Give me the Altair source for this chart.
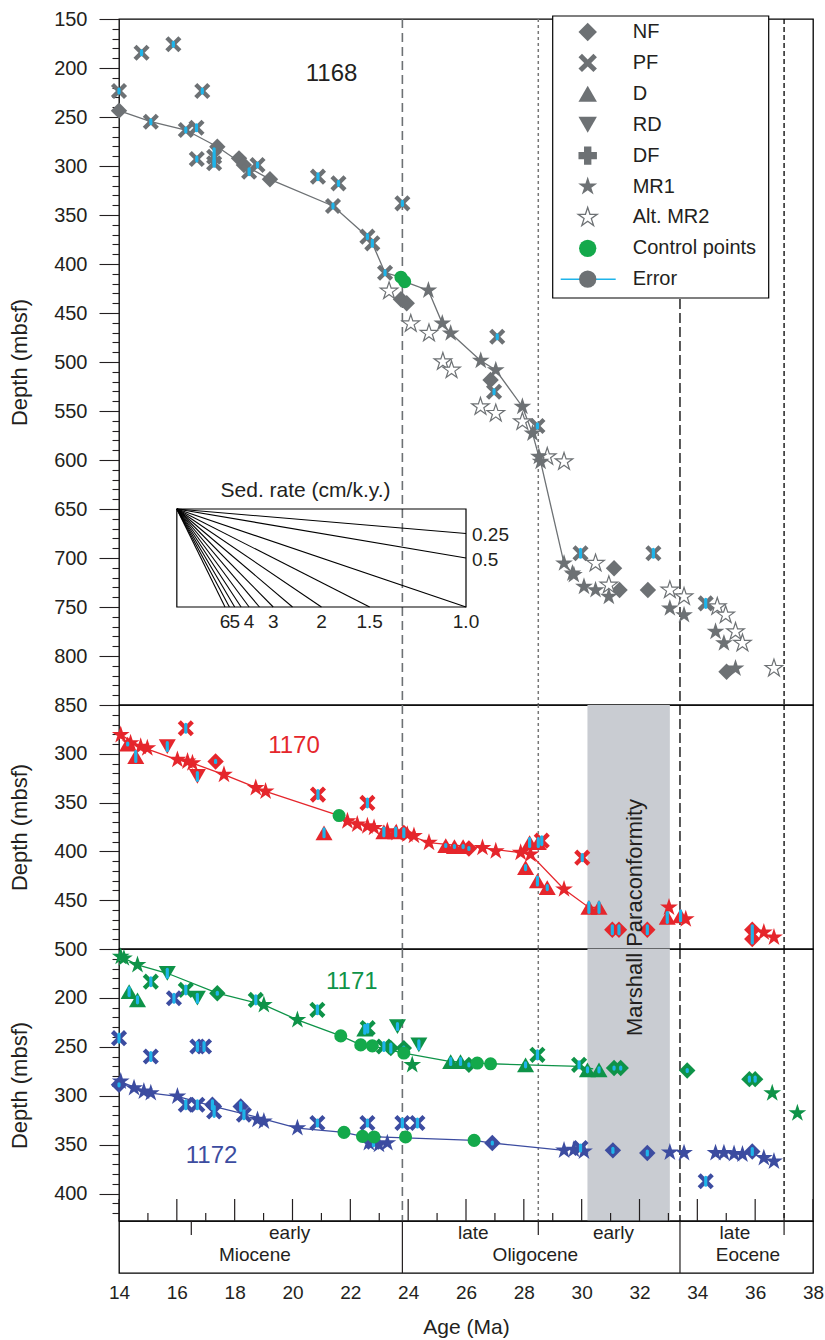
import altair as alt
import pandas as pd

# ------------------------------------------------------------------ data
AGE_DOMAIN = [14, 38]
DEPTH_1168 = [150, 850]
DEPTH_1170 = [250, 500]
DEPTH_1171_72 = [150, 428]

TICKS_1168 = list(range(150, 851, 10))
TICKS_1170 = list(range(260, 501, 10))
TICKS_1171_72 = list(range(160, 421, 10))

X_LABEL_VALUES = [14, 16, 18, 20, 22, 24, 26, 28, 30, 32, 34, 36, 38]
X_MAJOR_TICKS = [14, 16, 18, 20, 22, 24, 26, 28, 30, 32, 34, 36, 38]
X_MINOR_TICKS = [15, 17, 19, 21, 23, 25, 27, 29, 31, 33, 35, 37]

BOUNDARY_AGES = [23.8, 28.5, 33.4, 37.0]      # vertical lines across panels
EPOCH_BOUNDS = [23.8, 33.4]                   # full lines in time-scale box
SUBEPOCH_BOUNDS = [16.5, 28.5, 37.0]          # short ticks in time-scale box
GAP_AGES = [30.2, 33.05]                      # Marshall Paraconformity

EPOCH_NAMES = ["Miocene", "Oligocene", "Eocene"]
EPOCH_CENTERS = [18.7, 28.4, 35.75]
SUB_NAMES = ["early", "late", "early", "late"]
SUB_CENTERS = [19.9, 26.25, 31.1, 35.3]

# (age Ma, depth mbsf, depth error half-range m)
S1168_NF = [(14.0, 243.5), (17.4, 280.3), (18.15, 292.2), (18.32, 299.0), (19.22, 313.6),
            (23.75, 436.0), (23.95, 440.0), (26.85, 518.4), (31.12, 710.5), (31.31, 732.7),
            (32.29, 732.7), (35.01, 816.0)]
S1168_PF = [(14.78, 184.4, 2), (15.88, 175.8, 2), (14.0, 223.5, 2), (16.88, 223.5, 2),
            (15.10, 254.8, 2), (16.31, 263.3, 2), (16.68, 261.0, 3), (16.69, 292.9, 2),
            (17.29, 290.5, 8), (17.29, 297.2, 3), (18.50, 305.8, 3), (18.79, 299.0, 2),
            (20.88, 310.9, 3), (21.59, 317.7, 2), (21.40, 340.8, 2), (22.59, 372.1, 2),
            (22.76, 378.9, 3), (23.20, 408.9, 2), (23.80, 338.1, 2), (27.08, 474.2, 2),
            (26.97, 530.3, 2), (28.47, 565.3, 2), (29.96, 695.2, 4), (32.48, 695.2, 4),
            (34.29, 746.3, 4)]
S1168_MR1 = [(24.7, 427.0), (25.18, 460.5), (25.47, 470.7), (26.51, 498.7), (27.03, 508.2),
             (27.95, 545.6), (28.30, 572.8), (28.52, 596.6), (28.58, 601.7), (29.39, 705.4),
             (29.68, 715.7), (29.73, 717.3), (30.08, 729.3), (30.48, 732.7), (30.94, 739.5),
             (33.05, 751.3), (33.54, 758.2), (34.63, 775.2), (34.92, 787.0), (35.32, 812.6)]
S1168_MR2 = [(23.34, 427.6), (24.09, 461.0), (24.72, 470.7), (25.2, 499.7), (25.5, 508.2),
             (26.5, 545.6), (27.03, 552.4), (27.95, 560.9), (28.81, 596.6), (29.39, 601.7),
             (30.48, 705.4), (30.94, 727.6), (33.05, 732.7), (33.54, 739.5), (34.69, 749.7),
             (34.98, 758.2), (35.32, 775.2), (35.56, 787.0), (36.65, 812.6)]
S1168_CP = [(23.75, 413.5), (23.88, 418.0)]
L1168 = [(14.0, 243.5), (15.1, 254.8), (16.31, 263.3), (17.4, 280.3), (18.32, 299.0),
         (19.22, 313.6), (21.4, 340.8), (22.59, 372.1), (22.76, 378.9), (23.2, 408.9),
         (23.75, 413.5), (23.88, 418.0), (24.7, 427.0), (25.18, 460.5), (25.47, 470.7),
         (26.51, 498.7), (27.03, 508.2), (27.95, 545.6), (28.3, 572.8), (28.52, 596.6),
         (28.58, 601.7), (29.39, 705.4), (29.73, 717.3)]

S1170_MR1 = [(14.06, 280.6), (14.4, 289.1), (14.75, 292.6), (14.98, 294.2), (16.02, 306.1),
             (16.37, 307.8), (16.54, 309.5), (17.63, 321.4), (18.73, 335.0), (19.07, 338.5),
             (21.9, 369.0), (22.24, 372.4), (22.59, 374.2), (22.82, 375.8), (23.28, 379.3),
             (23.6, 381.0), (23.97, 382.7), (24.2, 384.0), (24.72, 391.1), (26.57, 396.3),
             (27.03, 399.7), (27.89, 401.3), (28.23, 403.0), (29.39, 438.8), (33.02, 457.4),
             (33.6, 469.4), (36.3, 483.0), (36.65, 488.1)]
S1170_PF = [(16.31, 273.8, 4), (20.88, 341.8, 4), (22.59, 350.3, 4), (28.62, 389.0, 4),
            (30.02, 406.4, 3)]
S1170_D = [(14.3, 290.0, 1), (14.58, 302.8, 5), (21.09, 381.0, 4), (23.16, 380.0, 4),
           (23.57, 380.0, 4), (25.3, 394.0, 1), (25.6, 395.0, 1), (25.9, 395.0, 1),
           (28.2, 391.0, 4), (28.5, 391.0, 4), (28.06, 416.6, 2), (28.47, 430.3, 4),
           (28.81, 437.1, 2), (30.25, 457.4, 5), (30.6, 457.4, 5), (32.96, 467.7, 5),
           (33.42, 466.0, 5)]
S1170_RD = [(15.67, 292.6, 4), (16.71, 323.2, 4)]
S1170_NF = [(17.34, 307.8, 1), (23.85, 381.0, 4), (26.1, 397.0, 1), (31.06, 480.3, 4),
            (31.29, 480.3, 4), (32.27, 480.3, 4), (35.9, 480.3, 4), (35.9, 489.8, 4)]
S1170_CP = [(21.61, 363.3)]
L1170 = [(14.06, 280.6), (14.75, 292.6), (16.02, 306.1), (16.54, 309.5), (17.63, 321.4),
         (19.07, 338.5), (21.61, 363.3), (22.59, 374.2), (23.97, 382.7), (24.72, 391.1),
         (26.57, 396.3), (27.89, 401.3), (28.23, 403.0), (29.39, 438.8), (30.25, 457.4),
         (30.6, 457.4)]

S1171_MR1 = [(14.06, 157.8), (14.17, 159.5), (14.64, 166.3), (19.01, 207.1), (20.17, 222.4),
             (24.14, 268.4), (36.59, 297.3), (37.46, 317.7)]
S1171_PF = [(15.1, 183.4, 4), (16.31, 191.8, 4), (18.73, 202.0, 4), (20.86, 212.2, 4),
            (22.6, 230.9, 4), (23.16, 249.7, 4), (28.47, 258.2, 4), (29.91, 268.4, 3)]
S1171_D = [(14.35, 193.6, 4), (14.64, 202.0, 3), (22.5, 232.0, 4), (25.47, 265.0, 3),
           (25.81, 265.0, 3), (28.06, 268.4, 2), (30.2, 273.5, 2), (30.6, 273.5, 2)]
S1171_RD = [(15.67, 174.8, 4), (16.71, 200.3, 4), (23.63, 229.3, 3), (24.37, 248.0, 4)]
S1171_NF = [(17.4, 195.2, 1), (23.4, 251.3, 4), (23.85, 251.3, 1), (26.1, 268.4, 1),
            (31.12, 271.7, 1), (31.35, 271.7, 1), (33.65, 274.2, 1), (35.8, 283.0, 2),
            (36.0, 283.0, 2)]
S1171_CP = [(21.67, 238.8), (22.36, 248.0), (22.76, 249.0), (23.85, 256.4), (26.39, 266.6),
            (26.85, 267.3)]
L1171 = [(14.06, 157.8), (14.64, 166.3), (15.67, 174.8), (17.4, 195.2), (19.01, 207.1),
         (20.17, 222.4), (21.67, 238.8), (22.36, 248.0), (22.76, 249.0), (23.85, 256.4),
         (25.47, 265.0), (26.39, 266.6), (26.85, 267.3), (28.06, 268.4), (29.91, 270.0),
         (30.4, 272.5)]

S1172_MR1 = [(14.06, 285.4), (14.52, 292.1), (14.86, 295.6), (15.1, 297.2), (16.02, 300.7),
             (18.79, 324.5), (19.01, 326.2), (20.17, 333.0), (22.64, 348.3), (22.99, 350.0),
             (23.28, 348.3), (29.39, 355.8), (29.73, 355.1), (30.08, 356.8), (33.05, 357.8),
             (33.54, 358.5), (34.63, 358.5), (34.92, 358.5), (35.27, 359.5), (35.56, 360.0),
             (36.3, 363.6), (36.65, 367.0)]
S1172_PF = [(14.0, 241.1, 4), (15.1, 259.9, 4), (15.9, 200.3, 4), (16.71, 249.7, 4),
            (16.94, 249.7, 4), (16.31, 309.2, 4), (16.71, 309.2, 4), (17.29, 316.0, 5),
            (18.32, 319.4, 4), (20.86, 327.9, 3), (22.59, 327.9, 3), (22.8, 347.0, 4),
            (23.8, 327.9, 4), (24.32, 327.9, 4), (29.96, 353.4, 3), (34.29, 387.4, 4)]
S1172_NF = [(14.0, 288.8, 1), (17.23, 309.2, 4), (18.21, 310.9, 4), (26.91, 348.3, 1),
            (31.08, 355.8, 2), (32.27, 358.5, 2), (35.9, 357.0, 3)]
S1172_CP = [(21.78, 337.4), (22.42, 341.5), (22.82, 342.1), (23.91, 342.1), (26.28, 345.6)]
L1172 = [(14.0, 285.4), (15.1, 297.2), (16.02, 300.7), (17.3, 311.0), (18.79, 322.0),
         (20.17, 333.0), (21.78, 337.4), (22.42, 341.5), (23.91, 343.0), (26.28, 345.6),
         (26.91, 348.3), (29.39, 355.8)]

SITE_NAMES = ["1168", "1170", "1171", "1172"]
SITE_LABEL_AGE = [21.35, 20.05, 22.05, 17.2]
SITE_LABEL_DEPTH = [206, 292, 184, 362]

SED_RATES = [0.25, 0.5, 1.0, 1.5, 2, 2.5, 3, 3.5, 4, 4.5, 5, 5.5, 6]
SED_BOX_AGE = [16, 26]
SED_BOX_DEPTH = [650, 750]
SED_BOTTOM_LABELS = ["6", "5", "4", "3", "2", "1.5", "1.0"]
SED_BOTTOM_RATES = [6, 5, 4, 3, 2, 1.5, 1.0]
SED_RIGHT_LABELS = ["0.25", "0.5"]
SED_RIGHT_RATES = [0.25, 0.5]

LEGEND_LABELS = ["NF", "PF", "D", "RD", "DF", "MR1", "Alt. MR2", "Control points", "Error"]

# ------------------------------------------------------------------ style
FONT = "Liberation Sans"
W = 694
H_TOP, H_MID, H_BOT, H_TS = 686, 244, 272, 52
INK = "#231f20"
GRAY = "#6d7174"
RED = "#e5262c"
GREEN = "#0e9348"
CP_GREEN = "#14a94b"
BLUE = "#3c4ca0"
CYAN = "#1eb4ea"
BAND = "#c9ccd2"

X_PATH = ("M-1,-0.62L-0.62,-1L0,-0.38L0.62,-1L1,-0.62L0.38,0L1,0.62L0.62,1"
          "L0,0.38L-0.62,1L-1,0.62L-0.38,0Z")
STAR_PATH = ("M0,-1L0.2245,-0.309L0.951,-0.309L0.363,0.118L0.588,0.809L0,0.382"
             "L-0.588,0.809L-0.363,0.118L-0.951,-0.309L-0.2245,-0.309Z")
SHAPE = {"NF": "diamond", "PF": X_PATH, "D": "triangle-up", "RD": "triangle-down",
         "DF": "cross", "MR1": STAR_PATH, "MR2": STAR_PATH, "CP": "circle"}
SIZE = {"NF": 270, "PF": 260, "D": 290, "RD": 290, "DF": 250, "MR1": 350, "MR2": 340, "CP": 170}

BOUNDARY_STYLE = [(GRAY, [9, 5], 1.6), ("#777777", [3, 3], 1.5), ("black", [10, 4], 1.3),
                  ("black", [5, 3], 1.3)]

XSC = alt.Scale(domain=AGE_DOMAIN, nice=False, zero=False)
ONE = pd.DataFrame({"k": [0]})


def xenc(field="age"):
    return alt.X(f"{field}:Q", scale=XSC, axis=None)


def y_axis(values):
    return alt.Axis(
        values=values, title="Depth (mbsf)", titleFontSize=22, titleFontWeight="normal",
        titleColor=INK, titlePadding=22, labelFontSize=20, labelColor=INK, labelPadding=12,
        labelExpr="datum.value % 50 === 0 ? datum.label : ''", labelOverlap=False,
        tickColor=INK, tickWidth=1.1,
        tickSize={"condition": {"test": "datum.value % 50 === 0", "value": 20}, "value": 7},
        domain=False, grid=False)


def to_df(pts):
    rows = []
    for i, p in enumerate(pts):
        e = p[2] if len(p) > 2 else 0
        rows.append({"i": i, "age": p[0], "depth": p[1], "lo": p[1] - e, "hi": p[1] + e})
    return pd.DataFrame(rows)


def panel(height, ydomain, yvalues, groups, lines, cps, extra_mid=(), extra_top=(), band=True):
    ysc = alt.Scale(domain=ydomain, reverse=True, nice=False, zero=False)
    yax = y_axis(yvalues)

    def Y(field="depth"):
        return alt.Y(f"{field}:Q", scale=ysc, axis=yax)

    layers = []
    if band:
        layers.append(alt.Chart(pd.DataFrame({"a0": [GAP_AGES[0]], "a1": [GAP_AGES[1]]}))
                      .mark_rect(color=BAND)
                      .encode(x=xenc("a0"), x2="a1:Q", y=alt.value(0), y2=alt.value(height)))
    for age, (col, dash, wd) in zip(BOUNDARY_AGES, BOUNDARY_STYLE):
        layers.append(alt.Chart(pd.DataFrame({"age": [age]}))
                      .mark_rule(color=col, strokeDash=dash, strokeWidth=wd)
                      .encode(x=xenc(), y=alt.value(0), y2=alt.value(height)))
    for f in extra_mid:
        layers.append(f(Y))
    for pts, col in lines:
        layers.append(alt.Chart(to_df(pts)).mark_line(color=col, strokeWidth=1.3)
                      .encode(x=xenc(), y=Y(), order="i:Q"))
    err_frames = []
    for typ, pts, col, cyan in groups:
        if not pts:
            continue
        d = to_df(pts)
        if typ == "MR2":
            mk = alt.Chart(d).mark_point(shape=SHAPE[typ], size=SIZE[typ], fill="white",
                                         stroke=col, strokeWidth=1.2, opacity=1)
        else:
            mk = alt.Chart(d).mark_point(shape=SHAPE[typ], size=SIZE[typ], filled=True,
                                         color=col, opacity=1)
        layers.append(mk.encode(x=xenc(), y=Y()))
        if cyan:
            err_frames.append(d)
    if err_frames:
        e = pd.concat(err_frames, ignore_index=True)
        layers.append(alt.Chart(e).mark_rule(color=CYAN, strokeWidth=3.2, strokeCap="round")
                      .encode(x=xenc(), y=Y("lo"), y2="hi:Q"))
    for pts in cps:
        layers.append(alt.Chart(to_df(pts)).mark_point(shape="circle", size=SIZE["CP"],
                                                       filled=True, color=CP_GREEN, opacity=1)
                      .encode(x=xenc(), y=Y()))
    for f in extra_top:
        layers.append(f(Y))
    return alt.layer(*layers).properties(width=W, height=height)


def site_label(idx, color):
    def f(Y):
        d = pd.DataFrame({"age": [SITE_LABEL_AGE[idx]], "depth": [SITE_LABEL_DEPTH[idx]],
                          "t": [SITE_NAMES[idx]]})
        return alt.Chart(d).mark_text(fontSize=24, color=color, align="center",
                                      baseline="middle").encode(x=xenc(), y=Y(), text="t:N")
    return f


# ---- sed-rate nomogram (top panel)
def sed_layers(Y):
    a0, a1 = SED_BOX_AGE
    d0, d1 = SED_BOX_DEPTH
    span_a, span_d = a1 - a0, d1 - d0
    rows = []
    for r in SED_RATES:
        m_per_my = 10.0 * r
        if m_per_my * span_a <= span_d:
            rows.append({"a0": a0, "d0": d0, "a1": a1, "d1": d0 + m_per_my * span_a})
        else:
            rows.append({"a0": a0, "d0": d0, "a1": a0 + span_d / m_per_my, "d1": d1})
    fan = (alt.Chart(pd.DataFrame(rows)).mark_rule(color="black", strokeWidth=1.1)
           .encode(x=xenc("a0"), y=Y("d0"), x2="a1:Q", y2="d1:Q"))
    box = (alt.Chart(pd.DataFrame({"a0": [a0], "a1": [a1], "d0": [d0], "d1": [d1]}))
           .mark_rect(fillOpacity=0, stroke="black", strokeWidth=1.2)
           .encode(x=xenc("a0"), x2="a1:Q", y=Y("d0"), y2="d1:Q"))
    title = (alt.Chart(pd.DataFrame({"age": [20.45], "depth": [631.5], "t": ["Sed. rate (cm/k.y.)"]}))
             .mark_text(fontSize=21, color=INK, align="center", baseline="middle")
             .encode(x=xenc(), y=Y(), text="t:N"))
    bl = pd.DataFrame({"age": [a0 + span_d / (10.0 * r) for r in SED_BOTTOM_RATES],
                       "depth": [765] * len(SED_BOTTOM_RATES), "t": SED_BOTTOM_LABELS,
                       "dx": [-3, 0, 0, 0, 0, 3, 6]})
    bot = (alt.Chart(bl).mark_text(fontSize=19, color=INK, align="center", baseline="middle")
           .encode(x=xenc(), y=Y(), text="t:N", xOffset="dx:Q"))
    rl = pd.DataFrame({"age": [a1] * 2,
                       "depth": [d0 + 10.0 * r * span_a + 2 for r in SED_RIGHT_RATES],
                       "t": SED_RIGHT_LABELS})
    right = (alt.Chart(rl).mark_text(fontSize=19, color=INK, align="left", baseline="middle", dx=6)
             .encode(x=xenc(), y=Y(), text="t:N"))
    return alt.layer(box, fan, title, bot, right)


# ---- legend (top panel)
LEG_X0, LEG_X1, LEG_Y0, LEG_Y1 = 433.7, 649.7, -3, 279
LEG_SYM_X, LEG_TXT_X, LEG_ROW0, LEG_DY = 468.7, 513.7, 13, 30.9


def legend_layers(Y):
    ls = [alt.Chart(ONE).mark_rect(fill="white", stroke="black", strokeWidth=1.2)
          .encode(x=alt.value(LEG_X0), x2=alt.value(LEG_X1), y=alt.value(LEG_Y0), y2=alt.value(LEG_Y1))]
    keys = ["NF", "PF", "D", "RD", "DF", "MR1", "MR2", "CP", "ERR"]
    for i, (k, lab) in enumerate(zip(keys, LEGEND_LABELS)):
        yy = LEG_ROW0 + i * LEG_DY
        if k == "ERR":
            ls.append(alt.Chart(ONE).mark_rule(color=CYAN, strokeWidth=1.6)
                      .encode(x=alt.value(LEG_SYM_X - 27), x2=alt.value(LEG_SYM_X + 28),
                              y=alt.value(yy)))
            ls.append(alt.Chart(ONE).mark_point(shape="circle", size=300, filled=True,
                                                color=GRAY, opacity=1)
                      .encode(x=alt.value(LEG_SYM_X), y=alt.value(yy)))
        elif k == "MR2":
            ls.append(alt.Chart(ONE).mark_point(shape=SHAPE[k], size=400, fill="white",
                                                stroke=GRAY, strokeWidth=1.3, opacity=1)
                      .encode(x=alt.value(LEG_SYM_X), y=alt.value(yy)))
        else:
            col = CP_GREEN if k == "CP" else GRAY
            sz = {"CP": 300, "MR1": 400, "D": 340, "RD": 340}.get(k, 340)
            ls.append(alt.Chart(ONE).mark_point(shape=SHAPE[k], size=sz, filled=True,
                                                color=col, opacity=1)
                      .encode(x=alt.value(LEG_SYM_X), y=alt.value(yy)))
        ls.append(alt.Chart(ONE).mark_text(text=lab, fontSize=20, color=INK, align="left",
                                           baseline="middle")
                  .encode(x=alt.value(LEG_TXT_X), y=alt.value(yy)))
    return alt.layer(*ls)


def marshall_text(Y):
    d = pd.DataFrame({"age": [31.84], "depth": [117.8], "t": ["Marshall Paraconformity"]})
    return (alt.Chart(d).mark_text(fontSize=22, color=INK, angle=270, align="center",
                                   baseline="middle")
            .encode(x=xenc(), y=Y(), text="t:N"))


top = panel(
    H_TOP, DEPTH_1168, TICKS_1168,
    groups=[("NF", S1168_NF, GRAY, False), ("PF", S1168_PF, GRAY, True),
            ("MR2", S1168_MR2, GRAY, False), ("MR1", S1168_MR1, GRAY, False)],
    lines=[(L1168, GRAY)], cps=[S1168_CP],
    extra_mid=[sed_layers], extra_top=[site_label(0, INK), legend_layers], band=False)

mid = panel(
    H_MID, DEPTH_1170, TICKS_1170,
    groups=[("MR1", S1170_MR1, RED, False), ("PF", S1170_PF, RED, True),
            ("D", S1170_D, RED, True), ("RD", S1170_RD, RED, True), ("NF", S1170_NF, RED, True)],
    lines=[(L1170, RED)], cps=[S1170_CP],
    extra_top=[site_label(1, RED)])

bot = panel(
    H_BOT, DEPTH_1171_72, TICKS_1171_72,
    groups=[("MR1", S1171_MR1, GREEN, False), ("PF", S1171_PF, GREEN, True),
            ("D", S1171_D, GREEN, True), ("RD", S1171_RD, GREEN, True),
            ("NF", S1171_NF, GREEN, True),
            ("MR1", S1172_MR1, BLUE, False), ("PF", S1172_PF, BLUE, True),
            ("NF", S1172_NF, BLUE, True)],
    lines=[(L1171, GREEN), (L1172, BLUE)], cps=[S1171_CP, S1172_CP],
    extra_top=[site_label(2, GREEN), site_label(3, BLUE), marshall_text])

# ---- time-scale strip with age axis
ts_x = alt.X("age:Q", scale=XSC,
             axis=alt.Axis(values=X_LABEL_VALUES, ticks=False, tickSize=0, domain=False,
                           grid=False, labelFlush=False, labelFontSize=19, labelColor=INK,
                           labelPadding=10, title="Age (Ma)", titleFontSize=21,
                           titleFontWeight="normal", titleColor=INK, titlePadding=14))
ts_layers = [
    alt.Chart(pd.DataFrame({"age": EPOCH_BOUNDS})).mark_rule(color=INK, strokeWidth=1.2)
    .encode(x=ts_x, y=alt.value(0), y2=alt.value(H_TS)),
    alt.Chart(pd.DataFrame({"age": SUBEPOCH_BOUNDS})).mark_rule(color=INK, strokeWidth=1.2)
    .encode(x=ts_x, y=alt.value(0), y2=alt.value(14)),
    alt.Chart(pd.DataFrame({"age": X_MAJOR_TICKS})).mark_rule(color=INK, strokeWidth=1.2)
    .encode(x=ts_x, y=alt.value(-22), y2=alt.value(0)),
    alt.Chart(pd.DataFrame({"age": X_MINOR_TICKS})).mark_rule(color=INK, strokeWidth=1.2)
    .encode(x=ts_x, y=alt.value(-8), y2=alt.value(0)),
    alt.Chart(pd.DataFrame({"age": SUB_CENTERS, "t": SUB_NAMES}))
    .mark_text(fontSize=19, color=INK, align="center", baseline="middle")
    .encode(x=ts_x, y=alt.value(12), text="t:N"),
    alt.Chart(pd.DataFrame({"age": EPOCH_CENTERS, "t": EPOCH_NAMES}))
    .mark_text(fontSize=19, color=INK, align="center", baseline="middle")
    .encode(x=ts_x, y=alt.value(34), text="t:N"),
]
ts = alt.layer(*ts_layers).properties(width=W, height=H_TS)

chart = (alt.vconcat(top, mid, bot, ts, spacing=0, bounds="flush")
         .properties(padding={"left": 7, "top": 8, "right": 0, "bottom": 0})
         .configure(font=FONT)
         .configure_view(stroke="black", strokeWidth=1.3))

chart.save("out.html", embed_options={"renderer": "svg", "actions": False})
